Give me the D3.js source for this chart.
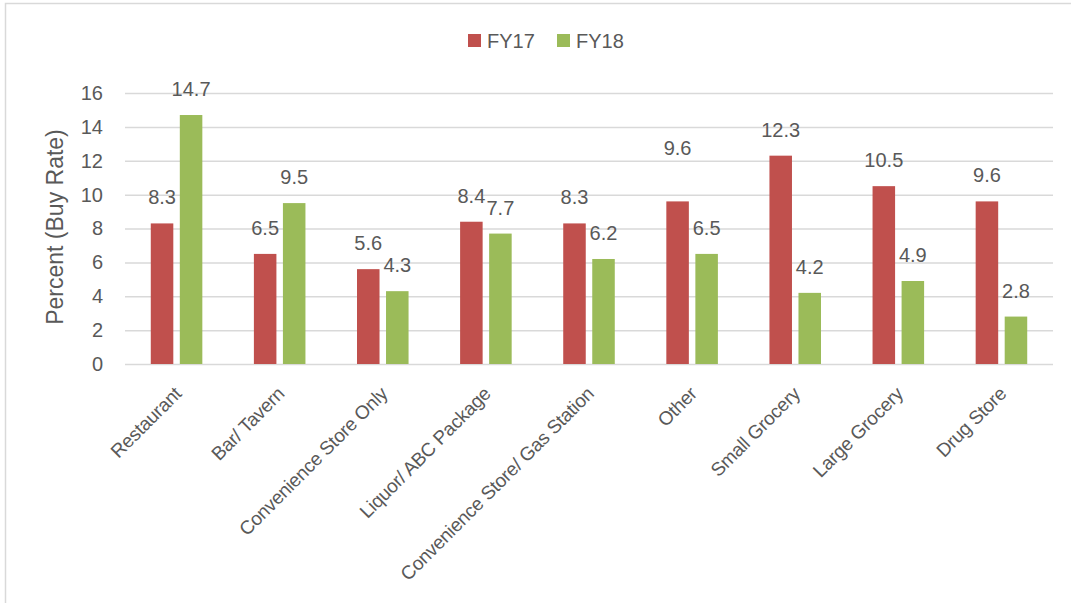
<!DOCTYPE html>
<html>
<head>
<meta charset="utf-8">
<script src="https://cdn.jsdelivr.net/npm/d3@7"></script>
<style>
  body { margin: 0; background: #fff; }
  svg { display: block; font-family: "Liberation Sans", Arial, sans-serif; }
  .grid line { stroke: #d9d9d9; stroke-width: 1.5; }
  .grid path { display: none; }
  text { fill: #595959; }
</style>
</head>
<body>
<svg class="chart"></svg>
<script>
'use strict'

// outlet types along the x axis
const categories = ['Restaurant', 'Bar/ Tavern', 'Convenience Store Only', 'Liquor/ ABC Package',
  'Convenience Store/ Gas Station', 'Other', 'Small Grocery', 'Large Grocery', 'Drug Store']
const seriesNames = ['FY17', 'FY18']
const fy17 = [8.3, 6.5, 5.6, 8.4, 8.3, 9.6, 12.3, 10.5, 9.6]
const fy18 = [14.7, 9.5, 4.3, 7.7, 6.2, 6.5, 4.2, 4.9, 2.8]
const yTicks = [0, 2, 4, 6, 8, 10, 12, 14, 16]

window.onload = function() {
  const width = 1071,
    height = 603,
    margin = {top: 93, right: 18, bottom: 239, left: 125},
    plotW = width - margin.left - margin.right,
    plotH = height - margin.top - margin.bottom,
    color = d3.scaleOrdinal().domain(seriesNames).range(['#C0504D', '#9BBB59'])

  const rows = categories.map((c, i) => ({cat: c, vals: [[seriesNames[0], fy17[i]], [seriesNames[1], fy18[i]]]}))

  const x0 = d3.scaleBand()
    .domain(categories)
    .range([0, plotW])
    .paddingInner(0.5)
    .paddingOuter(0.25)
  const x1 = d3.scaleBand()
    .domain(seriesNames)
    .range([0, x0.bandwidth()])
    .paddingInner(0.224)
  const y = d3.scaleLinear()
    .domain([0, 16])
    .range([plotH, 0])

  const svg = d3.select('.chart')
    .attr('width', width)
    .attr('height', height)

  // chart frame, only top + left edges show in the shot
  svg.append('rect')
    .attr('x', 5.5).attr('y', 3.5)
    .attr('width', width + 50).attr('height', height + 50)
    .attr('fill', 'none')
    .attr('stroke', '#d9d9d9')
    .attr('stroke-width', 1.5)

  const g = svg.append('g')
    .attr('transform', 'translate(' + margin.left + ',' + margin.top + ')')

  // gridlines
  g.append('g')
    .attr('class', 'grid')
    .call(d3.axisLeft(y).tickValues(yTicks).tickSize(-plotW).tickFormat(''))

  // tick labels
  const yAxis = g.append('g')
    .call(d3.axisLeft(y).tickValues(yTicks).tickSize(0).tickPadding(22))
  yAxis.select('.domain').remove()
  yAxis.selectAll('text')
    .attr('fill', '#595959')
    .style('font-size', '20px')
    .style('font-family', '"Liberation Sans", Arial, sans-serif')

  // y title
  svg.append('text')
    .attr('transform', 'translate(63,227) rotate(-90)')
    .attr('text-anchor', 'middle')
    .style('font-size', '23px')
    .text('Percent (Buy Rate)')

  const groups = g.selectAll('.group')
    .data(rows)
    .enter().append('g')
    .attr('class', 'group')
    .attr('transform', d => 'translate(' + x0(d.cat) + ',0)')

  groups.selectAll('rect')
    .data(d => d.vals)
    .enter().append('rect')
    .attr('x', d => x1(d[0]))
    .attr('width', x1.bandwidth())
    .attr('y', d => y(d[1]))
    .attr('height', d => plotH - y(d[1]))
    .attr('fill', d => color(d[0]))

  // the FY17 "Other" label was dragged higher in the original
  const lift = (cat, s) => (cat === 'Other' && s === 'FY17') ? 27 : 0

  groups.selectAll('.val')
    .data(d => d.vals.map(v => [v[0], v[1], d.cat]))
    .enter().append('text')
    .attr('class', 'val')
    .attr('x', d => x1(d[0]) + x1.bandwidth() / 2)
    .attr('y', d => y(d[1]) - 19 - lift(d[2], d[0]))
    .attr('text-anchor', 'middle')
    .style('font-size', '20px')
    .text(d => d[1].toFixed(1))

  // rotated category labels
  g.selectAll('.xlab')
    .data(categories)
    .enter().append('text')
    .attr('class', 'xlab')
    .attr('transform', d => 'translate(' + (x0(d) + x0.bandwidth() / 2 + 6) + ',' + (plotH + 31) + ') rotate(-45)')
    .attr('text-anchor', 'end')
    .style('font-size', '19px')
    .style('letter-spacing', '-0.25px')
    .text(d => d)

  // legend
  const legend = svg.append('g')
    .attr('transform', 'translate(468,34)')
    .selectAll('g')
    .data(seriesNames)
    .enter().append('g')
    .attr('transform', (d, i) => 'translate(' + i * 89 + ',0)')

  legend.append('rect')
    .attr('width', 13)
    .attr('height', 13)
    .attr('fill', d => color(d))

  legend.append('text')
    .attr('x', 19)
    .attr('y', 14)
    .style('font-size', '20px')
    .text(d => d)
}
</script>
</body>
</html>
